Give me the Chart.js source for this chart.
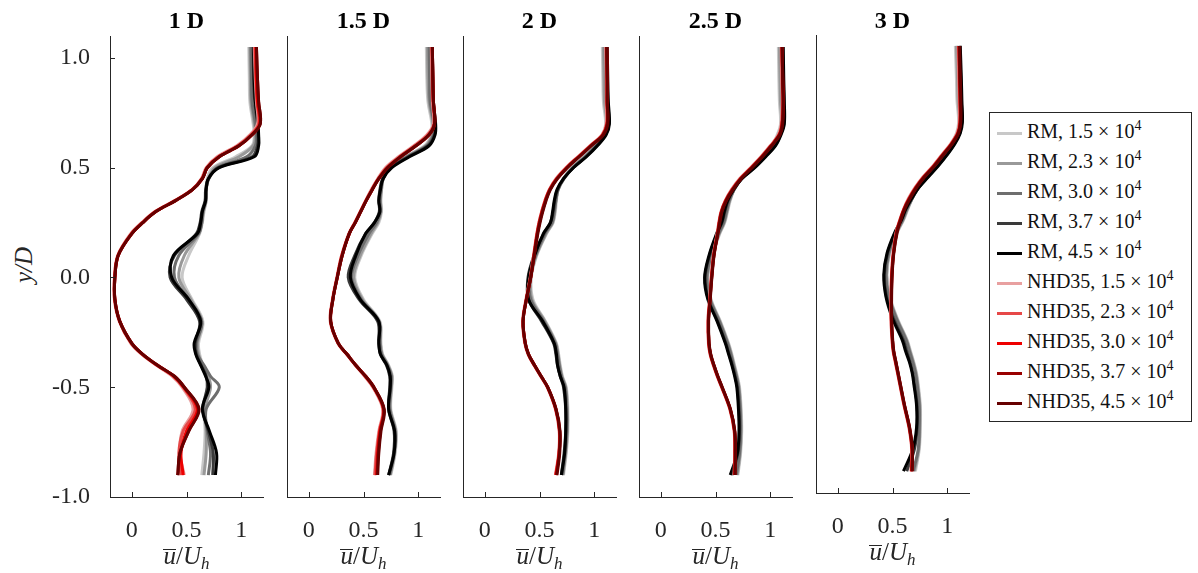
<!DOCTYPE html>
<html>
<head>
<meta charset="utf-8">
<script src="https://cdn.jsdelivr.net/npm/chart.js@4"></script>
<style>
  body { margin: 0; width: 1198px; height: 573px; background: #fff; position: relative; overflow: hidden;
         font-family: 'Liberation Serif', 'Times New Roman', serif; color: #262626; }
  canvas { position: absolute; top: 0; }
  .titulo { position: absolute; top: 8px; width: 153px; text-align: center; font-weight: bold; font-size: 24px;
            line-height: 24px; color: #000; }
  .rotulo-x { position: absolute; top: 544px; width: 153px; text-align: center; font-size: 25px; line-height: 26px; }
  .rotulo-x .barra { display: inline-block; font-style: italic; line-height: 12px; border-top: 1.5px solid #262626; }
  .rotulo-x sub { font-size: 17px; font-style: italic; vertical-align: -5px; line-height: 0; }
  .rotulo-y { position: absolute; left: 2px; top: 253px; width: 44px; text-align: center; font-size: 25px;
              line-height: 24px; font-style: italic; transform: rotate(-90deg); }
  .legenda { position: absolute; left: 989px; top: 112px; width: 201px; height: 305px; border: 1px solid #262626;
             padding-top: 3px; box-sizing: content-box; }
  .legenda div { height: 30px; line-height: 30px; font-size: 20px; white-space: nowrap; color: #111; }
  .legenda span.traco { display: inline-block; width: 25px; height: 3px; margin: 0 5px 0 7px; vertical-align: middle; }
  .legenda sup { font-size: 14px; vertical-align: 8px; line-height: 0; }
</style>
</head>
<body>
<div class="rotulo-y">y/D</div>
<div class="legenda" id="legenda"></div>

<script>
// Posições verticais (y/D) comuns a todos os perfis
const yLevels = [1.05, 0.9, 0.8, 0.7, 0.65, 0.6, 0.55, 0.5, 0.45, 0.4, 0.35, 0.3, 0.25, 0.2, 0.1, 0.0,
                 -0.1, -0.2, -0.3, -0.35, -0.4, -0.45, -0.5, -0.6, -0.7, -0.8, -0.9];

const xTicks = [0, 0.5, 1];
const yTicks = [-1, -0.5, 0, 0.5, 1];

const panelTitles = ['1 D', '1.5 D', '2 D', '2.5 D', '3 D'];
const reynolds = ['1.5', '2.3', '3.0', '3.7', '4.5'];
const rmColors = ['#c8c8c8', '#999999', '#6e6e6e', '#3a3a3a', '#000000'];
const nhdColors = ['#e8a0a0', '#e64848', '#ee0000', '#990000', '#660000'];

// u/Uh, modelo RM (linhas: Re 1.5, 2.3, 3.0, 3.7, 4.5 x 10^4)
const rm1D = [
  [1.07,1.075,1.08,1.11,1.12,1.10,0.95,0.74,0.69,0.68,0.68,0.66,0.645,0.62,0.52,0.46,0.55,0.65,0.61,0.62,0.65,0.69,0.70,0.66,0.67,0.66,0.64],
  [1.08,1.085,1.09,1.12,1.13,1.11,0.98,0.76,0.70,0.68,0.68,0.655,0.64,0.615,0.48,0.43,0.54,0.64,0.60,0.61,0.65,0.70,0.72,0.67,0.68,0.68,0.66],
  [1.09,1.095,1.10,1.13,1.14,1.13,1.05,0.78,0.705,0.68,0.675,0.65,0.64,0.61,0.43,0.39,0.52,0.64,0.59,0.60,0.66,0.72,0.80,0.68,0.69,0.72,0.70],
  [1.11,1.115,1.125,1.15,1.155,1.15,1.10,0.79,0.70,0.675,0.67,0.64,0.625,0.59,0.39,0.35,0.50,0.62,0.58,0.59,0.635,0.68,0.69,0.65,0.70,0.745,0.74],
  [1.115,1.12,1.13,1.155,1.16,1.16,1.12,0.80,0.70,0.68,0.675,0.645,0.63,0.60,0.38,0.365,0.52,0.63,0.57,0.585,0.63,0.675,0.705,0.645,0.71,0.775,0.765]
];
const rm15D = [
  [1.075,1.08,1.09,1.125,1.12,1.06,0.88,0.735,0.68,0.665,0.66,0.665,0.64,0.58,0.48,0.42,0.50,0.65,0.66,0.675,0.73,0.765,0.76,0.75,0.80,0.79,0.75],
  [1.085,1.09,1.10,1.135,1.13,1.07,0.89,0.74,0.68,0.665,0.655,0.66,0.63,0.57,0.47,0.41,0.49,0.645,0.655,0.67,0.725,0.76,0.755,0.745,0.795,0.785,0.745],
  [1.10,1.105,1.11,1.145,1.14,1.08,0.90,0.75,0.68,0.66,0.65,0.655,0.62,0.55,0.45,0.39,0.48,0.64,0.65,0.665,0.72,0.755,0.75,0.74,0.79,0.78,0.74],
  [1.12,1.125,1.13,1.155,1.15,1.09,0.91,0.75,0.675,0.65,0.64,0.645,0.60,0.52,0.42,0.36,0.46,0.63,0.64,0.655,0.71,0.74,0.74,0.73,0.78,0.775,0.73],
  [1.13,1.135,1.14,1.16,1.155,1.10,0.92,0.76,0.68,0.655,0.64,0.65,0.60,0.52,0.43,0.38,0.47,0.64,0.64,0.655,0.715,0.745,0.745,0.73,0.785,0.78,0.73]
];
const rm2D = [
  [1.075,1.08,1.085,1.105,1.08,1.00,0.90,0.79,0.715,0.67,0.655,0.645,0.625,0.565,0.475,0.425,0.44,0.555,0.655,0.675,0.69,0.71,0.745,0.76,0.76,0.745,0.72],
  [1.085,1.09,1.095,1.115,1.09,1.01,0.91,0.80,0.72,0.67,0.65,0.64,0.62,0.56,0.47,0.42,0.43,0.55,0.65,0.67,0.685,0.705,0.74,0.755,0.755,0.74,0.715],
  [1.10,1.105,1.11,1.125,1.10,1.02,0.92,0.805,0.725,0.67,0.65,0.635,0.615,0.55,0.465,0.41,0.42,0.54,0.645,0.665,0.68,0.70,0.735,0.75,0.75,0.735,0.71],
  [1.115,1.12,1.125,1.135,1.105,1.025,0.925,0.81,0.72,0.665,0.64,0.625,0.60,0.54,0.45,0.395,0.40,0.52,0.63,0.65,0.665,0.69,0.72,0.74,0.74,0.725,0.70],
  [1.12,1.125,1.13,1.14,1.11,1.03,0.93,0.81,0.72,0.66,0.635,0.62,0.60,0.535,0.455,0.40,0.40,0.53,0.635,0.655,0.665,0.69,0.725,0.74,0.74,0.73,0.70]
];
const rm25D = [
  [1.075,1.08,1.085,1.095,1.065,1.015,0.925,0.83,0.73,0.67,0.635,0.61,0.585,0.54,0.47,0.43,0.46,0.545,0.62,0.65,0.675,0.70,0.72,0.735,0.74,0.73,0.705],
  [1.085,1.09,1.095,1.105,1.075,1.025,0.935,0.84,0.735,0.67,0.63,0.605,0.58,0.535,0.465,0.425,0.455,0.54,0.615,0.645,0.67,0.695,0.715,0.73,0.735,0.725,0.70],
  [1.10,1.105,1.11,1.115,1.085,1.035,0.945,0.85,0.74,0.67,0.625,0.60,0.575,0.53,0.46,0.42,0.45,0.535,0.61,0.64,0.665,0.69,0.71,0.725,0.73,0.72,0.69],
  [1.115,1.12,1.125,1.125,1.095,1.045,0.955,0.855,0.74,0.665,0.615,0.585,0.56,0.515,0.445,0.405,0.435,0.52,0.595,0.625,0.655,0.68,0.70,0.715,0.72,0.705,0.65],
  [1.12,1.125,1.13,1.13,1.10,1.05,0.96,0.86,0.74,0.665,0.61,0.58,0.555,0.51,0.44,0.40,0.43,0.515,0.59,0.62,0.65,0.675,0.695,0.71,0.715,0.70,0.635]
];
const rm3D = [
  [1.075,1.085,1.09,1.105,1.085,1.035,0.965,0.885,0.81,0.73,0.68,0.64,0.60,0.55,0.475,0.45,0.475,0.545,0.635,0.665,0.695,0.72,0.735,0.755,0.755,0.745,0.71],
  [1.085,1.095,1.10,1.115,1.095,1.045,0.975,0.895,0.815,0.735,0.68,0.635,0.595,0.545,0.47,0.445,0.47,0.54,0.63,0.66,0.69,0.715,0.73,0.75,0.75,0.74,0.70],
  [1.10,1.11,1.115,1.125,1.105,1.055,0.985,0.905,0.82,0.74,0.68,0.63,0.59,0.54,0.465,0.44,0.465,0.535,0.625,0.655,0.685,0.71,0.725,0.745,0.745,0.735,0.69],
  [1.115,1.125,1.13,1.135,1.115,1.065,0.995,0.915,0.825,0.74,0.675,0.62,0.58,0.53,0.455,0.425,0.445,0.51,0.60,0.63,0.66,0.685,0.70,0.725,0.725,0.70,0.63],
  [1.12,1.13,1.135,1.14,1.12,1.07,1.00,0.92,0.83,0.74,0.675,0.62,0.58,0.525,0.45,0.42,0.44,0.50,0.59,0.62,0.655,0.68,0.695,0.72,0.72,0.685,0.60]
];

// u/Uh, modelo NHD35 (mesma ordem de Re)
const nhd1D = [
  [1.12,1.13,1.14,1.15,1.08,0.96,0.78,0.68,0.635,0.55,0.39,0.21,0.09,-0.01,-0.13,-0.16,-0.16,-0.115,-0.01,0.09,0.225,0.37,0.46,0.56,0.46,0.44,0.48],
  [1.125,1.135,1.145,1.16,1.09,0.97,0.79,0.685,0.64,0.55,0.395,0.215,0.095,-0.005,-0.128,-0.158,-0.158,-0.112,-0.005,0.095,0.23,0.38,0.47,0.58,0.47,0.43,0.45],
  [1.135,1.14,1.15,1.17,1.10,0.98,0.80,0.69,0.645,0.555,0.40,0.22,0.10,0.0,-0.125,-0.155,-0.155,-0.11,0.0,0.10,0.235,0.385,0.475,0.60,0.50,0.45,0.47],
  [1.14,1.15,1.16,1.175,1.10,0.98,0.80,0.69,0.645,0.555,0.40,0.22,0.10,0.0,-0.125,-0.155,-0.155,-0.11,0.0,0.10,0.235,0.39,0.48,0.61,0.52,0.44,0.42],
  [1.14,1.15,1.16,1.175,1.10,0.98,0.80,0.69,0.645,0.555,0.40,0.22,0.10,0.0,-0.125,-0.155,-0.155,-0.11,0.0,0.10,0.235,0.39,0.48,0.615,0.52,0.44,0.42]
];
const nhd15D = [
  [1.12,1.125,1.13,1.14,1.08,0.96,0.82,0.70,0.63,0.57,0.52,0.47,0.42,0.365,0.30,0.255,0.215,0.195,0.265,0.345,0.425,0.51,0.585,0.675,0.64,0.615,0.60],
  [1.125,1.13,1.135,1.145,1.09,0.97,0.83,0.71,0.635,0.575,0.52,0.47,0.42,0.37,0.30,0.258,0.218,0.198,0.268,0.348,0.428,0.515,0.59,0.68,0.645,0.62,0.605],
  [1.13,1.135,1.14,1.15,1.10,0.98,0.84,0.72,0.64,0.58,0.525,0.475,0.425,0.37,0.305,0.26,0.22,0.20,0.27,0.35,0.43,0.52,0.595,0.685,0.65,0.63,0.62],
  [1.13,1.135,1.14,1.15,1.10,0.98,0.84,0.72,0.64,0.58,0.525,0.475,0.425,0.37,0.305,0.26,0.22,0.20,0.27,0.35,0.43,0.52,0.595,0.685,0.655,0.635,0.625],
  [1.13,1.135,1.14,1.15,1.10,0.98,0.84,0.72,0.64,0.58,0.525,0.475,0.425,0.37,0.305,0.26,0.22,0.20,0.27,0.35,0.43,0.52,0.595,0.69,0.66,0.64,0.63]
];
const nhd2D = [
  [1.105,1.11,1.11,1.11,1.07,0.96,0.85,0.74,0.65,0.59,0.55,0.52,0.495,0.475,0.445,0.415,0.375,0.345,0.365,0.395,0.45,0.51,0.57,0.645,0.68,0.675,0.645],
  [1.11,1.115,1.115,1.115,1.075,0.965,0.855,0.745,0.655,0.59,0.55,0.52,0.495,0.477,0.447,0.417,0.378,0.348,0.368,0.398,0.452,0.512,0.572,0.648,0.682,0.678,0.648],
  [1.115,1.12,1.12,1.12,1.08,0.97,0.86,0.75,0.66,0.595,0.555,0.525,0.50,0.48,0.45,0.42,0.38,0.35,0.37,0.40,0.455,0.515,0.575,0.65,0.685,0.68,0.65],
  [1.115,1.12,1.12,1.12,1.08,0.97,0.86,0.75,0.66,0.595,0.555,0.525,0.50,0.48,0.45,0.42,0.38,0.35,0.37,0.40,0.455,0.515,0.575,0.65,0.685,0.68,0.655],
  [1.115,1.12,1.12,1.125,1.085,0.975,0.865,0.755,0.665,0.60,0.56,0.53,0.505,0.485,0.452,0.42,0.38,0.35,0.37,0.40,0.455,0.515,0.575,0.652,0.688,0.685,0.66]
];
const nhd25D = [
  [1.10,1.105,1.11,1.10,1.075,1.00,0.915,0.82,0.72,0.645,0.59,0.55,0.53,0.515,0.48,0.46,0.445,0.43,0.435,0.45,0.48,0.515,0.555,0.63,0.67,0.675,0.67],
  [1.105,1.11,1.115,1.105,1.08,1.005,0.92,0.825,0.725,0.65,0.59,0.552,0.532,0.517,0.482,0.462,0.447,0.432,0.437,0.452,0.482,0.517,0.557,0.632,0.672,0.677,0.672],
  [1.11,1.115,1.12,1.11,1.085,1.01,0.925,0.83,0.73,0.655,0.595,0.555,0.535,0.52,0.485,0.465,0.45,0.435,0.44,0.455,0.485,0.52,0.56,0.635,0.675,0.68,0.675],
  [1.11,1.115,1.12,1.11,1.085,1.01,0.925,0.83,0.73,0.655,0.595,0.555,0.535,0.52,0.485,0.465,0.45,0.435,0.44,0.455,0.485,0.52,0.56,0.635,0.675,0.68,0.68],
  [1.11,1.115,1.12,1.115,1.09,1.015,0.93,0.835,0.735,0.66,0.60,0.56,0.54,0.522,0.487,0.467,0.452,0.437,0.442,0.457,0.487,0.522,0.562,0.637,0.677,0.682,0.68]
];
const nhd3D = [
  [1.10,1.105,1.11,1.11,1.09,1.03,0.95,0.87,0.78,0.705,0.645,0.60,0.565,0.535,0.505,0.49,0.485,0.485,0.495,0.505,0.525,0.545,0.565,0.605,0.65,0.675,0.67],
  [1.105,1.11,1.115,1.115,1.095,1.035,0.955,0.875,0.785,0.71,0.65,0.602,0.567,0.537,0.507,0.492,0.487,0.487,0.497,0.507,0.527,0.547,0.567,0.607,0.652,0.677,0.672],
  [1.11,1.115,1.12,1.12,1.10,1.04,0.96,0.88,0.79,0.715,0.655,0.605,0.57,0.54,0.51,0.495,0.49,0.49,0.50,0.51,0.53,0.55,0.57,0.61,0.655,0.68,0.675],
  [1.11,1.115,1.12,1.12,1.10,1.04,0.96,0.88,0.79,0.715,0.655,0.605,0.57,0.54,0.51,0.495,0.49,0.49,0.50,0.51,0.53,0.55,0.57,0.61,0.655,0.68,0.68],
  [1.115,1.12,1.125,1.125,1.105,1.045,0.965,0.885,0.795,0.72,0.66,0.61,0.575,0.545,0.512,0.497,0.492,0.492,0.502,0.512,0.532,0.552,0.572,0.612,0.657,0.682,0.68]
];

const rmPanels = [rm1D, rm15D, rm2D, rm25D, rm3D];
const nhdPanels = [nhd1D, nhd15D, nhd2D, nhd25D, nhd3D];

// Geometria dos painéis (área de plotagem)
const plotLeft = [110, 287, 463, 639, 816];
const plotTop = [36, 36, 36, 36, 35];
const plotBottom = [497, 497, 497, 497, 493];
const plotWidth = 153;
const axisSpace = 60;
const corEixo = '#262626';

Chart.defaults.font.family = "'Liberation Serif', 'Times New Roman', serif";
Chart.defaults.font.size = 24;
Chart.defaults.color = corEixo;

// Marcas de escala voltadas para dentro do gráfico
const marcasInternas = {
  id: 'marcasInternas',
  afterDraw(chart, args, opts) {
    const { ctx, chartArea, scales } = chart;
    ctx.save();
    ctx.strokeStyle = corEixo;
    ctx.lineWidth = 1;
    ctx.beginPath();
    scales.x.ticks.forEach(t => {
      const px = Math.round(scales.x.getPixelForValue(t.value)) + 0.5;
      ctx.moveTo(px, chartArea.bottom);
      ctx.lineTo(px, chartArea.bottom - 5);
    });
    if (opts.eixoY) {
      scales.y.ticks.forEach(t => {
        const py = Math.round(scales.y.getPixelForValue(t.value)) + 0.5;
        ctx.moveTo(chartArea.left, py);
        ctx.lineTo(chartArea.left + 5, py);
      });
    }
    ctx.stroke();
    ctx.restore();
  }
};

function montarSeries(rows, colors, order0) {
  return rows.map((row, k) => ({
    data: row.map((x, j) => ({ x: x, y: yLevels[j] })),
    borderColor: colors[k],
    borderWidth: 3,
    showLine: true,
    pointRadius: 0,
    tension: 0.35,
    fill: false,
    order: order0 - k
  }));
}

function criarPainel(i) {
  const canvas = document.createElement('canvas');
  canvas.width = axisSpace + plotWidth + 12;
  canvas.height = 573;
  canvas.style.left = (plotLeft[i] - axisSpace) + 'px';
  document.body.appendChild(canvas);

  const datasets = montarSeries(rmPanels[i], rmColors, 10).concat(montarSeries(nhdPanels[i], nhdColors, 5));

  new Chart(canvas.getContext('2d'), {
    type: 'scatter',
    data: { datasets: datasets },
    plugins: [marcasInternas],
    options: {
      responsive: false,
      animation: false,
      devicePixelRatio: 1,
      layout: { padding: { top: plotTop[i], right: 12, left: 0, bottom: 0 } },
      plugins: {
        legend: { display: false },
        tooltip: { enabled: false },
        marcasInternas: { eixoY: i === 0 }
      },
      scales: {
        x: {
          type: 'linear',
          min: -0.2,
          max: 1.2,
          afterBuildTicks: axis => { axis.ticks = xTicks.map(v => ({ value: v })); },
          afterFit: axis => { axis.height = 573 - plotBottom[i]; },
          ticks: { padding: 11, maxRotation: 0, callback: v => String(v) },
          grid: { display: false },
          border: { display: true, color: corEixo, width: 1 }
        },
        y: {
          type: 'linear',
          min: -1,
          max: 1.1,
          afterBuildTicks: axis => { axis.ticks = yTicks.map(v => ({ value: v })); },
          afterFit: axis => { axis.width = axisSpace; },
          ticks: { display: i === 0, padding: 12, callback: v => v.toFixed(1) },
          grid: { display: false },
          border: { display: true, color: corEixo, width: 1 }
        }
      }
    }
  });

  // título e rótulo do eixo x como texto HTML
  const titulo = document.createElement('div');
  titulo.className = 'titulo';
  titulo.style.left = plotLeft[i] + 'px';
  titulo.textContent = panelTitles[i];
  document.body.appendChild(titulo);

  const rotulo = document.createElement('div');
  rotulo.className = 'rotulo-x';
  rotulo.style.left = plotLeft[i] + 'px';
  rotulo.style.top = (plotBottom[i] + 46) + 'px';
  rotulo.innerHTML = '<span class="barra">u</span>/<i>U</i><sub>h</sub>';
  document.body.appendChild(rotulo);
}

function montarLegenda() {
  const caixa = document.getElementById('legenda');
  const itens = reynolds.map((re, k) => ({ nome: 'RM', re: re, cor: rmColors[k] }))
    .concat(reynolds.map((re, k) => ({ nome: 'NHD35', re: re, cor: nhdColors[k] })));
  caixa.innerHTML = itens.map(it =>
    `<div><span class="traco" style="background:${it.cor}"></span>${it.nome}, ${it.re} &times; 10<sup>4</sup></div>`
  ).join('');
}

document.addEventListener('DOMContentLoaded', () => {
  for (let i = 0; i < panelTitles.length; i++) criarPainel(i);
  montarLegenda();
});
</script>
</body>
</html>
